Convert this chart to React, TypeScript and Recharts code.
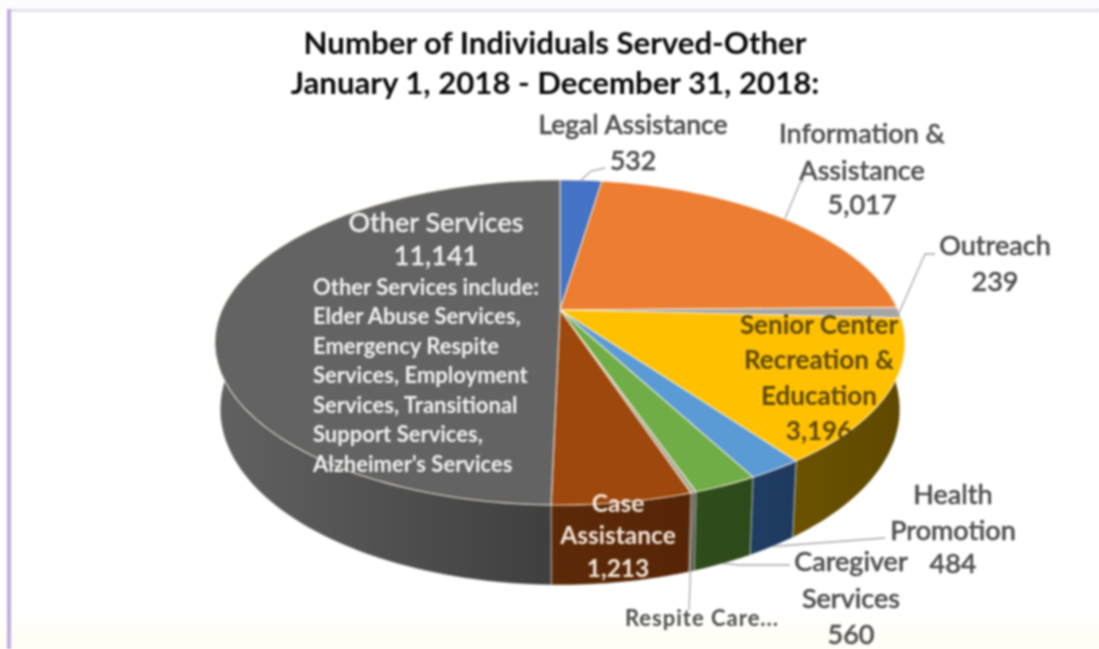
import React from "react";
import { PieChart, Pie } from "recharts";

const CATEGORIES = ["Legal Assistance", "Information & Assistance", "Outreach", "Senior Center Recreation & Education", "Health Promotion", "Caregiver Services", "Respite Care...", "Case Assistance", "Other Services"];
const VALUES = [532, 5017, 239, 3196, 484, 560, 50, 1213, 11141];
const TOP_COLORS = ["#4472c4", "#ed7d31", "#a5a5a5", "#ffc000", "#5b9bd5", "#70ad47", "#a8a898", "#9e480e", "#636363"];
const WALL_LIGHT = ["#223962", "#773f18", "#535353", "#6b5200", "#1f3d63", "#2f4d1c", "#4a4a3a", "#5c2a08", "#626262"];
const WALL_DARK = ["#223962", "#773f18", "#535353", "#5f4900", "#1f3a5f", "#2c4a1a", "#4a4a3a", "#562506", "#3e3e3e"];

const TITLE_LINES = ["Number of Individuals Served-Other", "January 1, 2018 - December 31, 2018:"];
const OTHER_NOTE = ["Other Services include:", "Elder Abuse Services,", "Emergency Respite", "Services, Employment", "Services, Transitional", "Support Services,", "Alzheimer's Services"];

type Lay = { x: number; lines: string[]; ys: number[]; size: number; color: string; weight: number; bolden?: number; spacing?: number; value?: boolean; leader?: number[][]; startBottom?: boolean };
const GREY = "#4e4e4e";
const LABEL_LAYOUT: Lay[] = [
  { x: 633, lines: ["Legal Assistance"], ys: [134, 170], size: 26.5, color: GREY, weight: 500, bolden: 0.6, value: true, leader: [[591, 171], [605, 168]] },
  { x: 862, lines: ["Information &", "Assistance"], ys: [143, 180, 214], size: 27, color: GREY, weight: 500, bolden: 0.5, value: true, leader: [[800, 183], [804, 180]] },
  { x: 995, lines: ["Outreach"], ys: [255, 291], size: 27, color: GREY, weight: 500, bolden: 0.5, value: true, leader: [[925, 254], [935, 254]] },
  { x: 819, lines: ["Senior Center", "Recreation &", "Education"], ys: [334, 369, 405, 440], size: 26, color: "#5f4a08", weight: 700, value: true },
  { x: 953, lines: ["Health", "Promotion"], ys: [504, 540, 573], size: 27, color: GREY, weight: 500, bolden: 0.5, value: true, startBottom: true, leader: [[885, 538]] },
  { x: 851, lines: ["Caregiver", "Services"], ys: [571, 608, 644], size: 27, color: GREY, weight: 500, bolden: 0.5, value: true, startBottom: true, leader: [[740, 565], [790, 565]] },
  { x: 702, lines: ["Respite Care..."], ys: [626], size: 22, color: GREY, weight: 700, spacing: 1, leader: [[689, 610]] },
  { x: 618, lines: ["Case", "Assistance"], ys: [512, 544, 577], size: 24.5, color: "#f3e6da", weight: 700, value: true },
  { x: 436, lines: ["Other Services"], ys: [232, 265], size: 27, color: "#f2f2f2", weight: 500, bolden: 0.3, value: true },
];
const NOTE_X = 313;
const NOTE_YS = [295, 324, 354, 383, 413, 442, 472];

const APEX_X = 560, APEX_Y = 310, PERSP = 0.2, RX = 338, RY = 156, DEPTH = 64;
const rad = (a: number) => ((90 - a) * Math.PI) / 180;
function rim(a: number, bottom: boolean) {
  const X = Math.sin(rad(a)), Y = -Math.cos(rad(a));
  const w = 1 - PERSP * Y;
  const px = APEX_X + (RX * X * (bottom ? 0.985 : 1)) / w;
  const py = APEX_Y + (RY * Y) / w + (bottom ? DEPTH / w : 0);
  return [px, py];
}
function arcPts(from: number, to: number, bottom: boolean) {
  const n = Math.max(2, Math.ceil(Math.abs(to - from) / 1.5));
  const out: number[][] = [];
  for (let i = 0; i <= n; i++) out.push(rim(from + ((to - from) * i) / n, bottom));
  return out;
}
const toPath = (p: number[][]) => p.map((q, i) => (i ? "L" : "M") + q[0].toFixed(1) + " " + q[1].toFixed(1)).join(" ");

const rows = CATEGORIES.map((name, i) => ({ name, value: VALUES[i], fill: TOP_COLORS[i], idx: i }));

function TopSlice(p: any) {
  const d = toPath([[APEX_X, APEX_Y], ...arcPts(p.startAngle, p.endAngle, false)]) + " Z";
  return <path d={d} fill={p.fill} stroke="#fff3e0" strokeOpacity={0.75} strokeWidth={1.1} strokeLinejoin="round" />;
}
function WallSlice(p: any) {
  const i = p.payload?.idx ?? p.idx ?? p.index ?? 0;
  const a = arcPts(p.startAngle, p.endAngle, false);
  const b = arcPts(p.endAngle, p.startAngle, true);
  const id = "wall" + i;
  return (
    <g>
      <defs>
        <linearGradient id={id} x1="0" y1="0" x2="1" y2="0">
          <stop offset="0" stopColor={WALL_LIGHT[i]} />
          <stop offset="1" stopColor={WALL_DARK[i]} />
        </linearGradient>
      </defs>
      <path d={toPath([...a, ...b]) + " Z"} fill={`url(#${id})`} stroke="#e8efe8" strokeOpacity={0.55} strokeWidth={0.9} />
    </g>
  );
}
function renderLabel(p: any) {
  const i = p.index;
  const l = LABEL_LAYOUT[i];
  const mid = p.midAngle;
  const start = rim(mid, !!l.startBottom);
  const texts = l.value ? [...l.lines, VALUES[i].toLocaleString("en-US")] : l.lines;
  return (
    <g>
      {l.leader && <path d={toPath([start, ...l.leader])} fill="none" stroke="#a8a8a8" strokeWidth={1.3} />}
      {texts.map((t, k) => (
        <text key={k} x={l.x} y={l.ys[k]} textAnchor="middle" fontFamily="Lato" fontSize={l.size} fontWeight={l.weight} letterSpacing={l.spacing ?? 0} stroke={l.bolden ? l.color : "none"} strokeWidth={l.bolden ?? 0} fill={l.color}>{t}</text>
      ))}
      {i === CATEGORIES.length - 1 && OTHER_NOTE.map((t, k) => (
        <text key={"n" + k} x={NOTE_X} y={NOTE_YS[k]} fontFamily="Lato" fontSize={22} fontWeight={700} fill="#f2f2f2">{t}</text>
      ))}
    </g>
  );
}

export default function App() {
  return (
    <div style={{ position: "absolute", left: 0, top: 0, width: 1099, height: 649, overflow: "hidden", background: "linear-gradient(#fcfbfd 0, #fcfbfd 9px, #ffffff 10px, #ffffff 610px, #fffdf5 640px)" }}>
      <div style={{ filter: "blur(0.8px)", position: "absolute", inset: 0 }}>
        <div style={{ position: "absolute", left: 7, top: 9, right: 0, height: 3, background: "#e4e0ee" }} />
        <div style={{ position: "absolute", left: 7, top: 9, width: 4, bottom: 0, background: "#c0ace0" }} />
        {TITLE_LINES.map((t, i) => (
          <div key={i} style={{ position: "absolute", left: 0, width: 1110, top: i === 0 ? 24 : 64, textAlign: "center", fontFamily: "Lato", fontWeight: 700, fontSize: 31.2, lineHeight: "36px", color: "#0a0a0a", whiteSpace: "nowrap" }}>{t}</div>
        ))}
        <div style={{ position: "absolute", left: 0, top: 0 }}>
          <PieChart width={1099} height={649} margin={{ top: 0, right: 0, bottom: 0, left: 0 }}>
            <Pie data={rows} dataKey="value" nameKey="name" cx={APEX_X} cy={APEX_Y} outerRadius={130} startAngle={90} endAngle={-270} isAnimationActive={false} shape={WallSlice} label={false} labelLine={false} />
            <Pie data={rows} dataKey="value" nameKey="name" cx={APEX_X} cy={APEX_Y} outerRadius={130} startAngle={90} endAngle={-270} isAnimationActive={false} shape={TopSlice} label={renderLabel} labelLine={false} />
          </PieChart>
        </div>
      </div>
    </div>
  );
}
